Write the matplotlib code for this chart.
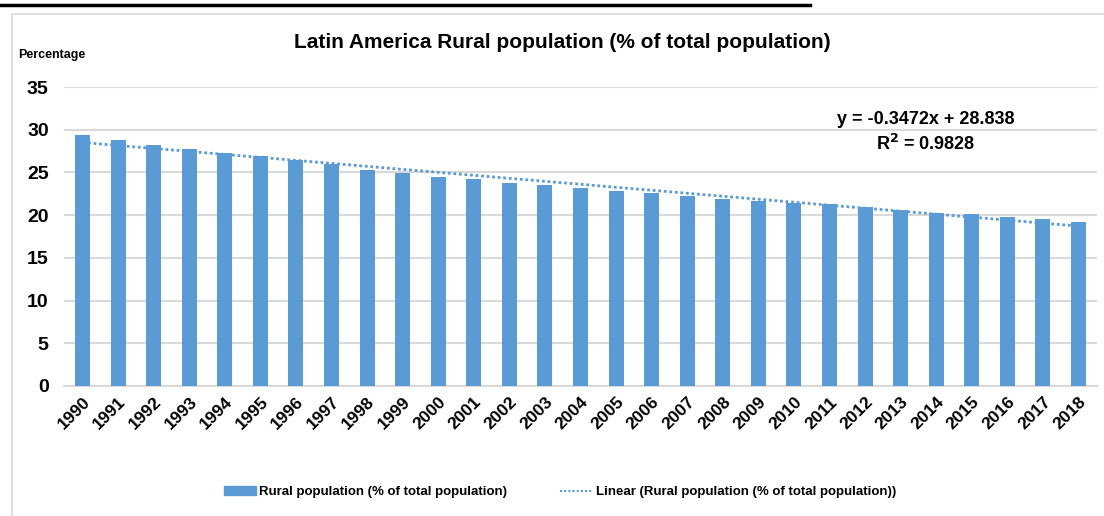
import matplotlib.pyplot as plt
import numpy as np
from matplotlib.lines import Line2D
from matplotlib.patches import Patch, Rectangle

plt.rcParams['font.family'] = ['Liberation Sans Narrow', 'Liberation Sans', 'DejaVu Sans']

# Data
years = [str(y) for y in range(1990, 2019)]
rural_pct = [29.4, 28.8, 28.2, 27.75, 27.3, 26.9, 26.4, 25.95, 25.3, 24.95,
             24.5, 24.25, 23.8, 23.55, 23.2, 22.85, 22.6, 22.25, 21.9, 21.65,
             21.45, 21.25, 20.95, 20.6, 20.3, 20.15, 19.8, 19.55, 19.2]
yticks = [0, 5, 10, 15, 20, 25, 30, 35]

blue = '#5b9bd5'
grid = '#d9d9d9'

fig = plt.figure(figsize=(11.04, 5.16), dpi=100)
ax = fig.add_axes([64 / 1104, 1 - 386 / 516, (1097 - 64) / 1104, (386 - 87) / 516])

x = np.arange(len(years))
ax.bar(x, rural_pct, width=0.42, color=blue, zorder=3)

# linear trendline (x = 1..29, like Excel)
slope, intercept = np.polyfit(x + 1, rural_pct, 1)
ax.plot(x, slope * (x + 1) + intercept, color=blue, linestyle=(0, (1, 1)),
        linewidth=2, zorder=4)

ax.set_ylim(0, 35)
ax.set_xlim(-0.52, len(years) - 0.48)
ax.set_yticks(yticks)
ax.set_xticks(x)
ax.set_xticklabels(years, rotation=45, ha='right', rotation_mode='anchor',
                   fontsize=12.5, fontweight='bold')
ax.tick_params(axis='y', labelsize=14, length=0, pad=11)
ax.tick_params(axis='x', length=0, pad=6)
for lbl in ax.get_yticklabels():
    lbl.set_fontweight('bold')
ax.yaxis.grid(True, color=grid, linewidth=1.5, zorder=0)
for s in ['top', 'right', 'left']:
    ax.spines[s].set_visible(False)
ax.spines['bottom'].set_color(grid)
ax.spines['bottom'].set_linewidth(1.5)

ax.text(0.834, 0.89, 'y = -0.3472x + 28.838', transform=ax.transAxes,
        ha='center', va='center', fontsize=13, fontweight='bold')
ax.text(0.834, 0.808, 'R$\\mathbf{^2}$ = 0.9828', transform=ax.transAxes,
        ha='center', va='center', fontsize=13, fontweight='bold')

fig.text(562 / 1104, 1 - 42 / 516, 'Latin America Rural population (% of total population)',
         ha='center', va='center', fontsize=15, fontweight='bold')
fig.text(18 / 1104, 1 - 55 / 516, 'Percentage', ha='left', va='center',
         fontsize=9, fontweight='bold')

# chart frame and cut-off line above it
fig.add_artist(Rectangle((12 / 1104, -0.1), 1.2, 1 - 14 / 516 + 0.1,
                         transform=fig.transFigure, fill=False,
                         edgecolor='#d9d9d9', linewidth=1.2))
fig.add_artist(Line2D([0, 810 / 1104], [1 - 5 / 516] * 2, transform=fig.transFigure,
                      color='black', linewidth=2.5))

handles = [Patch(color=blue, label='Rural population (% of total population)'),
           Line2D([], [], color=blue, linestyle=(0, (1, 1)), linewidth=1.5,
                  label='Linear (Rural population (% of total population))')]
leg = fig.legend(handles=handles, loc='center', bbox_to_anchor=(560 / 1104, 1 - 492 / 516),
                 ncol=2, frameon=False, fontsize=9.5, handlelength=2.4, columnspacing=4,
                 handleheight=0.6, handletextpad=0.3)
for t in leg.get_texts():
    t.set_fontweight('bold')

fig.savefig('out.png', dpi=100)
